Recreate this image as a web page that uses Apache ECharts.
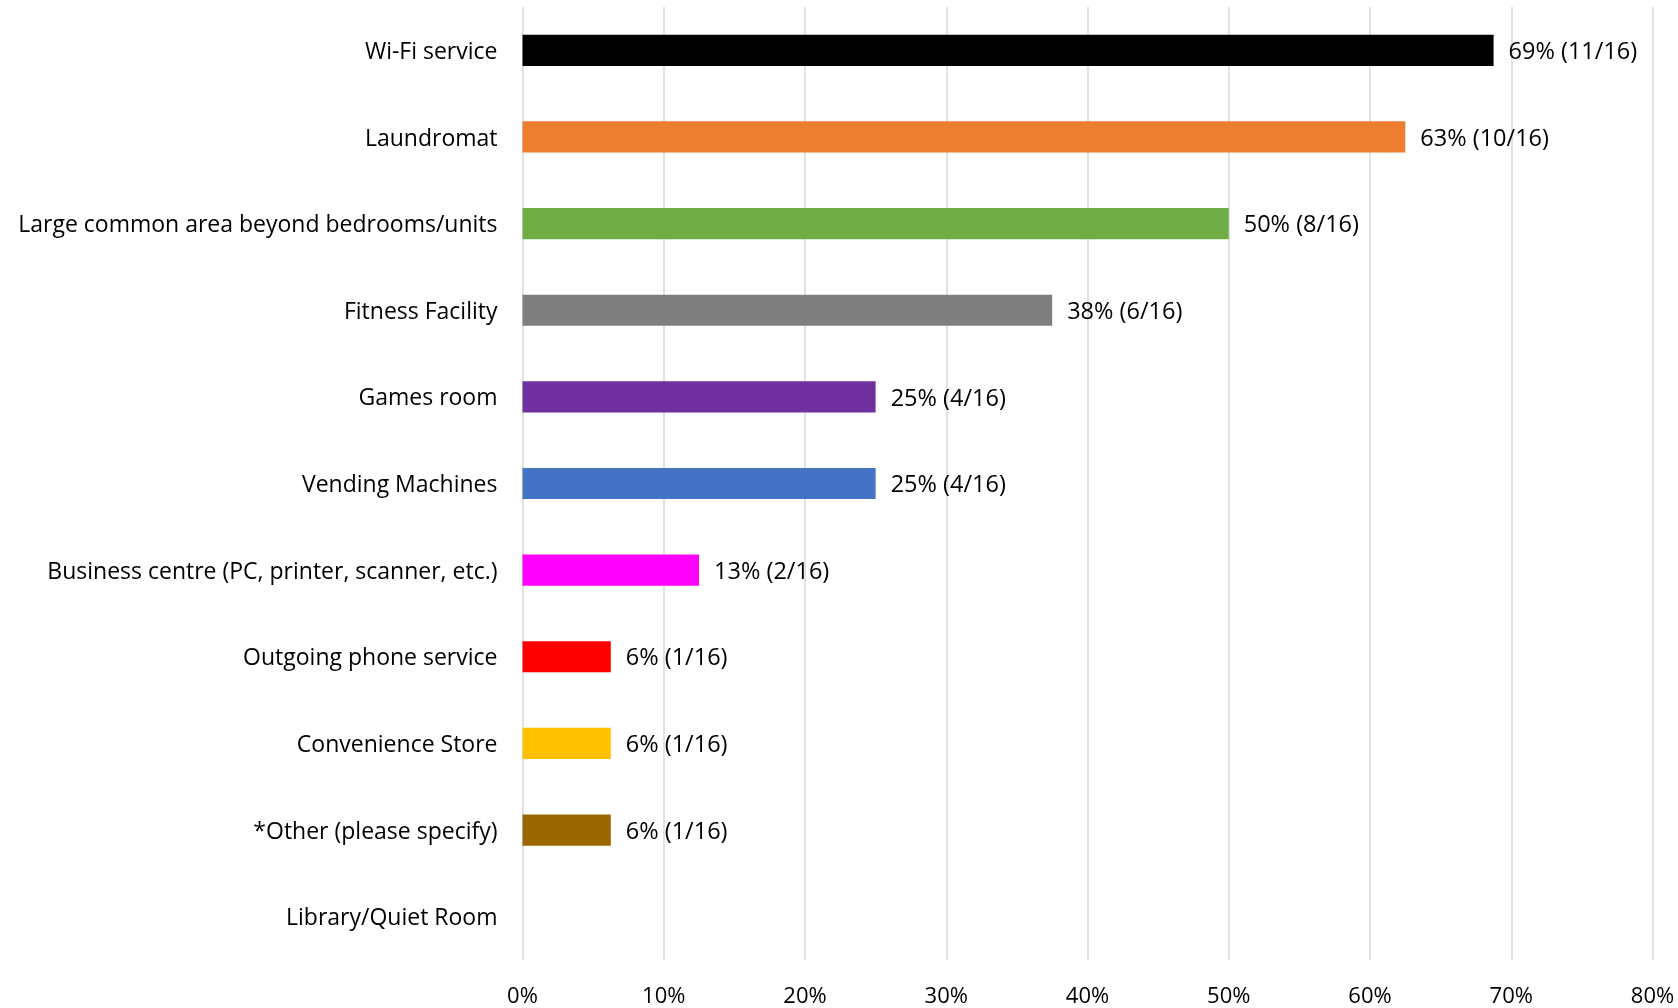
<!DOCTYPE html>
<html>
<head>
<meta charset="utf-8">
<script src="https://cdn.jsdelivr.net/npm/echarts@6/dist/echarts.min.js"></script>
<style>
  html, body { margin: 0; padding: 0; background: #fff; }
  #chart { width: 1678px; height: 1008px; }
</style>
</head>
<body>
<div id="chart"></div>
<script>
// Amenities offered, counted out of 16 respondents
const categories = [
  'Wi-Fi service',
  'Laundromat',
  'Large common area beyond bedrooms/units',
  'Fitness Facility',
  'Games room',
  'Vending Machines',
  'Business centre (PC, printer, scanner, etc.)',
  'Outgoing phone service',
  'Convenience Store',
  '*Other (please specify)',
  'Library/Quiet Room'
];
const counts = [11, 10, 8, 6, 4, 4, 2, 1, 1, 1, 0];
const total = 16;
const barColors = [
  '#000000', '#ED7D31', '#70AD47', '#7F7F7F', '#7030A0',
  '#4472C4', '#FF00FF', '#FF0000', '#FFC000', '#996600', '#A5A5A5'
];
const xTicks = [0, 0.1, 0.2, 0.3, 0.4, 0.5, 0.6, 0.7, 0.8];

const FONT = '"Open Sans"';
const chart = echarts.init(document.getElementById('chart'), null, { renderer: 'canvas' });

chart.setOption({
  backgroundColor: '#ffffff',
  animation: false,
  grid: { left: 522.5, right: 25.5, top: 7, bottom: 46, containLabel: false },
  xAxis: {
    type: 'value',
    min: xTicks[0],
    max: xTicks[xTicks.length - 1],
    interval: 0.1,
    axisLine: { show: false },
    axisTick: { show: false },
    splitLine: { show: true, lineStyle: { color: '#d9d9d9', width: 1.5 } },
    axisLabel: {
      margin: 26,
      fontFamily: FONT,
      fontSize: 22,
      color: '#000',
      formatter: v => Math.round(v * 100) + '%'
    }
  },
  yAxis: {
    type: 'category',
    data: categories,
    inverse: true,
    axisLine: { show: false },
    axisTick: { show: false },
    splitLine: { show: false },
    axisLabel: {
      margin: 25, fontFamily: FONT, fontSize: 23, color: '#000',
      verticalAlign: 'top',
      lineHeight: 23,
      padding: [-9.5, 0, 0, 0]
    }
  },
  series: [{
    type: 'bar',
    barWidth: '36%',
    data: counts.map((c, i) => ({
      value: c / total,
      itemStyle: { color: barColors[i] },
      label: { show: c > 0 }
    })),
    label: {
      position: 'right',
      distance: 15,
      offset: [0, 2],
      fontFamily: FONT,
      fontSize: 23.5,
      color: '#000',
      formatter: p => Math.round(p.value * 100) + '% (' + counts[p.dataIndex] + '/' + total + ')'
    }
  }]
});
</script>
</body>
</html>
